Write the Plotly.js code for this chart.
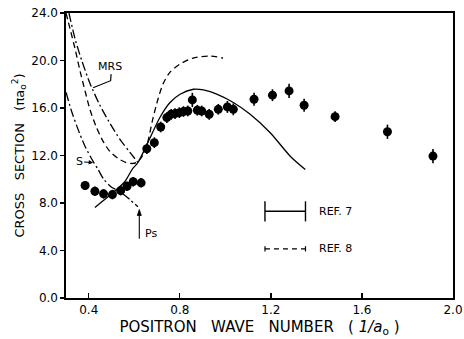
<!DOCTYPE html>
<html><head><meta charset="utf-8">
<script src="https://cdn.plot.ly/plotly-3.0.1.min.js"></script>
<style>html,body{margin:0;padding:0;background:#fff}#chart{width:464px;height:339px}</style>
</head><body><div id="chart"></div>
<script>
// Measured positron cross sections
const kData = [0.384,0.427,0.465,0.504,0.540,0.568,0.595,0.630,0.655,0.688,0.716,0.743,0.762,0.779,0.798,0.816,0.835,0.855,0.877,0.896,0.929,0.969,1.009,1.035,1.126,1.207,1.280,1.346,1.482,1.712,1.912];
const sigmaData = [9.47,8.99,8.77,8.71,9.04,9.41,9.80,9.70,12.57,13.08,14.40,15.19,15.47,15.53,15.61,15.70,15.75,16.68,15.81,15.75,15.47,15.89,16.09,15.89,16.74,17.08,17.44,16.23,15.27,14.00,11.95];
const sigmaErr = [0.35,0.4,0.4,0.4,0.4,0.4,0.4,0.4,0.45,0.45,0.45,0.45,0.45,0.45,0.45,0.45,0.45,0.6,0.45,0.45,0.45,0.45,0.5,0.5,0.55,0.5,0.6,0.55,0.45,0.6,0.6];
// REF. 7 (solid)
const ref7K = [0.427,0.507,0.559,0.590,0.616,0.660,0.713,0.757,0.801,0.860,0.904,0.962,1.035,1.109,1.197,1.285,1.351];
const ref7S = [7.63,8.88,9.81,10.82,11.41,13.10,15.22,16.46,17.16,17.58,17.52,17.16,16.46,15.47,13.92,11.94,10.82];
// REF. 8 (dashed)
const ref8K = [0.300,0.318,0.340,0.362,0.384,0.405,0.432,0.463,0.493,0.529,0.564,0.595,0.616,0.634,0.656,0.682,0.704,0.726,0.757,0.801,0.858,0.933,0.990];
const ref8S = [24.0,22.65,20.96,19.10,17.41,15.89,14.45,13.19,12.34,11.75,11.41,11.33,11.50,11.92,12.93,15.13,16.74,18.01,19.02,19.70,20.20,20.37,20.20];
// MRS (dash-dot)
const mrsK = [0.313,0.340,0.370,0.405,0.449,0.493,0.537,0.581,0.616];
const mrsS = [24.0,21.81,19.95,18.09,16.23,14.71,13.36,12.26,11.41];
// S (dash-dot)
const sK = [0.300,0.326,0.353,0.384,0.419,0.441,0.467,0.502,0.537,0.581,0.616];
const sS = [17.33,15.64,14.20,12.76,11.50,10.82,9.97,9.30,8.96,8.28,7.69];
// ticks
const xTicks = [0.4,0.8,1.2,1.6,2.0];
const xTickText = ['0.4','0.8','1.2','1.6','2.0'];
const yTicks = [0,4,8,12,16,20,24];
const yTickText = ['0.0','4.0','8.0','12.0','16.0','20.0','24.0'];

const FONT = 'DejaVu Sans, sans-serif';
const ln = {color:'#000', width:1.3};
const traces = [
  {x:ref7K, y:ref7S, mode:'lines', line:Object.assign({shape:'spline', smoothing:0.8}, ln), hoverinfo:'skip'},
  {x:ref8K, y:ref8S, mode:'lines', line:Object.assign({shape:'spline', smoothing:0.8, dash:'6px,4px'}, ln), hoverinfo:'skip'},
  {x:mrsK, y:mrsS, mode:'lines', line:Object.assign({shape:'spline', smoothing:0.8, dash:'9px,3px,2px,3px'}, ln), hoverinfo:'skip'},
  {x:sK, y:sS, mode:'lines', line:Object.assign({shape:'spline', smoothing:0.8, dash:'9px,3px,2px,3px'}, ln), hoverinfo:'skip'},
  {x:kData, y:sigmaData, mode:'markers', marker:{color:'#000', size:9},
   error_y:{type:'data', array:sigmaErr, visible:true, color:'#000', thickness:1.6, width:0}}
];

const shapes = [
  // REF. 7 key
  {type:'line', xref:'x', yref:'y', x0:1.174, x1:1.352, y0:7.30, y1:7.30, line:{color:'#000', width:1.4}},
  {type:'line', xref:'x', yref:'y', x0:1.174, x1:1.174, y0:6.45, y1:8.14, line:{color:'#000', width:1.4}},
  {type:'line', xref:'x', yref:'y', x0:1.352, x1:1.352, y0:6.45, y1:8.14, line:{color:'#000', width:1.4}},
  // REF. 8 key
  {type:'line', xref:'x', yref:'y', x0:1.174, x1:1.352, y0:4.14, y1:4.14, line:{color:'#000', width:1.2, dash:'5px,4px'}},
  {type:'line', xref:'x', yref:'y', x0:1.174, x1:1.174, y0:3.92, y1:4.36, line:{color:'#000', width:1.2}},
  {type:'line', xref:'x', yref:'y', x0:1.352, x1:1.352, y0:3.92, y1:4.36, line:{color:'#000', width:1.2}},
  // MRS leader
  {type:'path', xref:'x', yref:'y', path:'M0.498,18.85 L0.496,18.30 L0.419,17.70', line:{color:'#000', width:1.2}},
  // Ps arrow
  {type:'line', xref:'x', yref:'y', x0:0.622, x1:0.622, y0:5.0, y1:7.2, line:{color:'#000', width:1.1}},
  {type:'path', xref:'x', yref:'y', path:'M0.622,7.45 L0.6132,6.95 L0.6308,6.95 Z', fillcolor:'#000', line:{color:'#000', width:0.8}}
];

const annotations = [
  {x:0.493, y:19.5, xref:'x', yref:'y', text:'MRS', showarrow:false, font:{family:FONT, size:11, color:'#000'}},
  {x:0.419, y:11.4, xref:'x', yref:'y', text:'S', showarrow:true, ax:-14, ay:-1, arrowhead:2, arrowsize:0.8, arrowwidth:1.1, arrowcolor:'#000', standoff:0, font:{family:FONT, size:11, color:'#000'}},
  {x:0.640, y:5.4, xref:'x', yref:'y', text:'Ps', xanchor:'left', showarrow:false, font:{family:FONT, size:11, color:'#000'}},
  {x:1.403, y:7.30, xref:'x', yref:'y', text:'REF. 7', xanchor:'left', showarrow:false, font:{family:FONT, size:11, color:'#000'}},
  {x:1.403, y:4.14, xref:'x', yref:'y', text:'REF. 8', xanchor:'left', showarrow:false, font:{family:FONT, size:11, color:'#000'}}
];

const layout = {
  width:464, height:339,
  margin:{l:66, r:11, t:13, b:41},
  paper_bgcolor:'#fff', plot_bgcolor:'#fff',
  showlegend:false,
  font:{family:FONT, size:12, color:'#000'},
  xaxis:{range:[0.3,2.0], tickvals:xTicks, ticktext:xTickText, ticks:'inside', ticklen:5, tickwidth:1.3, tickcolor:'#000',
         showgrid:false, zeroline:false, showline:true, mirror:true, linecolor:'#000', linewidth:1.6,
         tickfont:{family:FONT, size:12, color:'#000'},
         title:{text:'POSITRON\u00a0\u00a0\u00a0WAVE\u00a0\u00a0\u00a0NUMBER\u00a0\u00a0\u00a0(\u00a0<i>1/a</i><sub>o</sub>\u00a0)', standoff:5, font:{family:FONT, size:15, color:'#000'}}},
  yaxis:{range:[0,24], tickvals:yTicks, ticktext:yTickText, ticks:'outside', ticklen:4, tickwidth:1.3, tickcolor:'#000',
         showgrid:false, zeroline:false, showline:true, mirror:true, linecolor:'#000', linewidth:1.6,
         tickfont:{family:FONT, size:12, color:'#000'},
         title:{text:'CROSS\u00a0\u00a0\u00a0SECTION\u00a0\u00a0\u00a0(\u03c0a<sub>o</sub><sup>2</sup>)', standoff:4, font:{family:FONT, size:13, color:'#000'}}},
  shapes:shapes, annotations:annotations
};
Plotly.newPlot('chart', traces, layout, {staticPlot:true, displayModeBar:false});
</script>
</body></html>
